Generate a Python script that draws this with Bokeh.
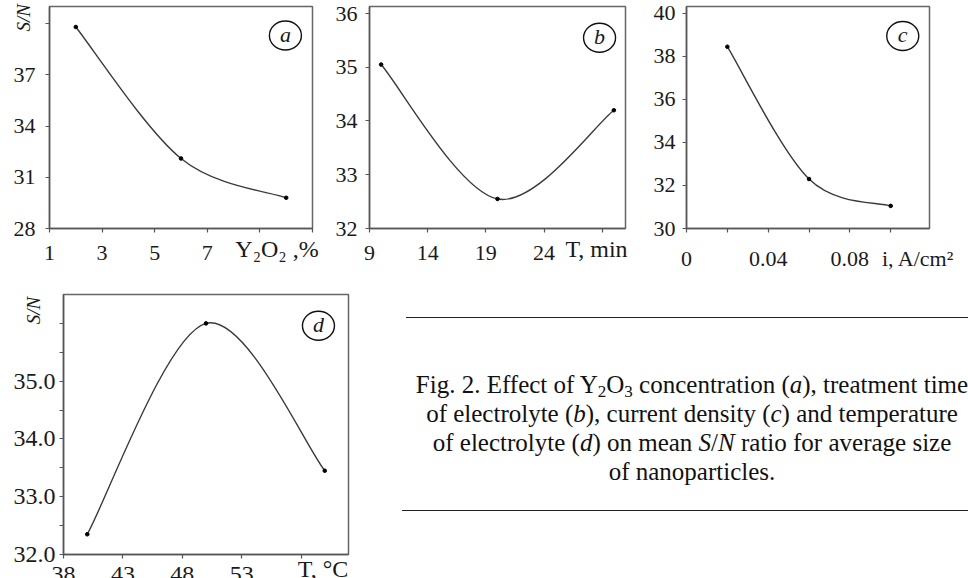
import numpy as np
from bokeh.plotting import figure
from bokeh.models import FixedTicker, Label, Div, Range1d
from bokeh.layouts import row, column
from bokeh.embed import file_html
from bokeh.resources import INLINE

FONT = "Liberation Serif"

# ---------------- data ----------------
a_x = [2, 6, 10]
a_y = [39.8, 32.1, 29.8]
b_x = [10, 20, 30]
b_y = [35.05, 32.55, 34.2]
c_x = [0.02, 0.06, 0.10]
c_y = [38.45, 32.3, 31.05]
d_x = [40, 50, 60]
d_y = [32.35, 36.0, 33.45]

NB = "\u00a0"
a_xticks = [1, 3, 5, 7, 9, 11]
a_xlabels = ["1", "3", "5", "7", "", ""]
a_yticks = [28, 31, 34, 37, 40]
a_ylabels = ["28", "31", "34", "37", ""]

b_xticks = [9, 14, 19, 24, 29]
b_xlabels = ["9", "14", "19", "24", ""]
b_yticks = [32, 33, 34, 35, 36]
b_ylabels = ["32", "33", "34", "35", "36"]

c_xticks = [0, 0.02, 0.04, 0.06, 0.08, 0.1]
c_xlabels = ["0", "", "0.04", "", "0.08", NB * 10 + "i, A/cm\u00b2"]
c_yticks = [30, 32, 34, 36, 38, 40]
c_ylabels = ["30", "32", "34", "36", "38", "40"]

d_xticks = [38, 43, 48, 53, 58]
d_xlabels = ["38", "43", "48", "53", ""]
d_yticks = [32, 32.5, 33, 33.5, 34, 34.5, 35, 35.5, 36]
d_ylabels = ["32.0", "", "33.0", "", "34.0", "", "35.0", "", ""]

a_title = "Y\u2082O\u2082 ,%"
b_title = "T, min"
d_title = "T, \u00b0C"
y_name = "S/N"

CURVE = "#3a3a3a"
FRAME = "#666666"
TEXT = "#1a1a1a"


def bezier_from_points(xs, ys):
    """Smoothed (Catmull-Rom style) bezier segments through the data points."""
    px = [xs[0]] + list(xs) + [xs[-1]]
    py = [ys[0]] + list(ys) + [ys[-1]]
    out = dict(x0=[], y0=[], x1=[], y1=[], cx0=[], cy0=[], cx1=[], cy1=[])
    for i in range(len(xs) - 1):
        xm, x0, x1, x2 = px[i], px[i + 1], px[i + 2], px[i + 3]
        ym, y0, y1, y2 = py[i], py[i + 1], py[i + 2], py[i + 3]
        out["x0"].append(x0); out["y0"].append(y0)
        out["x1"].append(x1); out["y1"].append(y1)
        out["cx0"].append(x0 + (x1 - xm) / 6.0)
        out["cy0"].append(y0 + (y1 - ym) / 6.0)
        out["cx1"].append(x1 - (x2 - x0) / 6.0)
        out["cy1"].append(y1 - (y2 - y0) / 6.0)
    return out


def make_panel(xr, yr, xticks, xlabels, yticks, ylabels, xs, ys, width, height,
               bl, br, bt, bb, font_size, ystand, xstand):
    p = figure(width=width, height=height, output_backend="svg",
               toolbar_location=None, x_range=Range1d(*xr), y_range=Range1d(*yr))
    p.min_border_left = bl
    p.min_border_right = br
    p.min_border_top = bt
    p.min_border_bottom = bb
    p.xgrid.visible = False
    p.ygrid.visible = False
    p.background_fill_color = "white"
    p.border_fill_color = "white"
    p.outline_line_color = FRAME
    p.outline_line_width = 1.5
    for ax, ticks, labels, stand in ((p.xaxis[0], xticks, xlabels, xstand),
                                     (p.yaxis[0], yticks, ylabels, ystand)):
        ax.ticker = FixedTicker(ticks=ticks)
        ax.major_label_overrides = {t: l for t, l in zip(ticks, labels)}
        ax.major_tick_in = 0
        ax.major_tick_out = 4
        ax.minor_tick_in = 0
        ax.minor_tick_out = 0
        ax.axis_line_color = "#555555"
        ax.axis_line_width = 1.5
        ax.major_tick_line_color = "#555555"
        ax.major_tick_line_width = 1.2
        ax.major_label_text_font = FONT
        ax.major_label_text_font_size = f"{font_size}px"
        ax.major_label_text_color = TEXT
        ax.major_label_standoff = stand
        ax.axis_label_text_font = FONT
        ax.axis_label_text_color = TEXT
    seg = bezier_from_points(xs, ys)
    p.bezier(x0=seg["x0"], y0=seg["y0"], x1=seg["x1"], y1=seg["y1"],
             cx0=seg["cx0"], cy0=seg["cy0"], cx1=seg["cx1"], cy1=seg["cy1"],
             line_color=CURVE, line_width=1.4)
    p.scatter(xs, ys, size=3.6, color="black")
    return p


def circled(p, x, y, letter, size=22):
    p.ellipse(x=[x], y=[y], width=32, height=29, width_units="screen",
              height_units="screen", fill_color=None, line_color="#111111", line_width=1.4)
    p.add_layout(Label(x=x, y=y, text=letter, text_font=FONT, text_font_style="italic",
                       text_font_size=f"{size}px", text_align="center", text_baseline="middle",
                       text_color=TEXT, y_offset=1))


def y_title(p, text, pad, standoff, size=19):
    # centred axis title, pushed toward the top end by leading no-break spaces
    ax = p.yaxis[0]
    ax.axis_label = NB * pad + text
    ax.axis_label_standoff = standoff
    ax.axis_label_text_font_style = "italic"
    ax.axis_label_text_font_size = f"{size}px"


def x_title(p, text, pad, standoff, size=24):
    # centred axis title, pushed toward the right end by leading no-break spaces
    ax = p.xaxis[0]
    ax.axis_label = NB * pad + text
    ax.axis_label_standoff = standoff
    ax.axis_label_text_font_style = "normal"
    ax.axis_label_text_font_size = f"{size}px"


# ---------------- panel a ----------------
pa = make_panel((1, 11), (28, 41), a_xticks, a_xlabels, a_yticks, a_ylabels, a_x, a_y,
                330, 278, 49, 18, 6, 50, 22, 10, 13)
y_title(pa, y_name, 42, -23)
x_title(pa, a_title, 32, -27)
circled(pa, 9.97, 39.3, "a")

# ---------------- panel b ----------------
pb = make_panel((9, 31), (32, 36.13), b_xticks, b_xlabels, b_yticks, b_ylabels, b_x, b_y,
                320, 278, 39, 25, 6, 50, 22, 8, 13)
x_title(pb, b_title, 33, -27)
circled(pb, 28.77, 35.55, "b")

# ---------------- panel c ----------------
pc = make_panel((0, 0.119), (30, 40.32), c_xticks, c_xlabels, c_yticks, c_ylabels, c_x, c_y,
                318, 278, 34, 39, 6, 50, 22, 7, 13)
circled(pc, 0.1059, 38.95, "c")

# ---------------- panel d ----------------
pd = make_panel((38, 62), (32, 36.5), d_xticks, d_xlabels, d_yticks, d_ylabels, d_x, d_y,
                380, 318, 63, 32, 16, 42, 24, 4, 8)
y_title(pd, y_name, 48, -33)
x_title(pd, d_title, 39, -29, size=24)
circled(pd, 59.47, 35.96, "d")

# ---------------- caption ----------------
caption_lines = [
    "Fig. 2. Effect of Y<sub>2</sub>O<sub>3</sub> concentration (<i>a</i>), treatment time",
    "of electrolyte (<i>b</i>), current density (<i>c</i>) and temperature",
    "of electrolyte (<i>d</i>) on mean <i>S</i>/<i>N</i> ratio for average size",
    "of nanoparticles.",
]
sub_css = "font-size:17px;vertical-align:-4px;line-height:0;"
body = "<br>".join(caption_lines).replace("<sub>", f"<sub style='{sub_css}'>")
html = (
    "<div style=\"position:relative;width:588px;height:300px;overflow:hidden;"
    "font-family:'Liberation Serif',serif;color:#111;\">"
    "<div style='position:absolute;left:26px;top:39px;width:562px;height:0;"
    "border-top:1.5px solid #222;'></div>"
    "<div style='position:absolute;left:12px;top:92px;width:600px;text-align:center;"
    "font-size:25px;line-height:29px;white-space:nowrap;'>" + body + "</div>"
    "<div style='position:absolute;left:22px;top:232px;width:566px;height:0;"
    "border-top:1.5px solid #222;'></div>"
    "</div>"
)
cap = Div(text=html, width=588, height=300, margin=0, styles={"overflow": "hidden"})

layout = column(row(pa, pb, pc), row(pd, cap), width=968, height=578,
                styles={"overflow": "hidden", "max-height": "578px"})

open("out.html", "w").write(file_html(layout, INLINE))
